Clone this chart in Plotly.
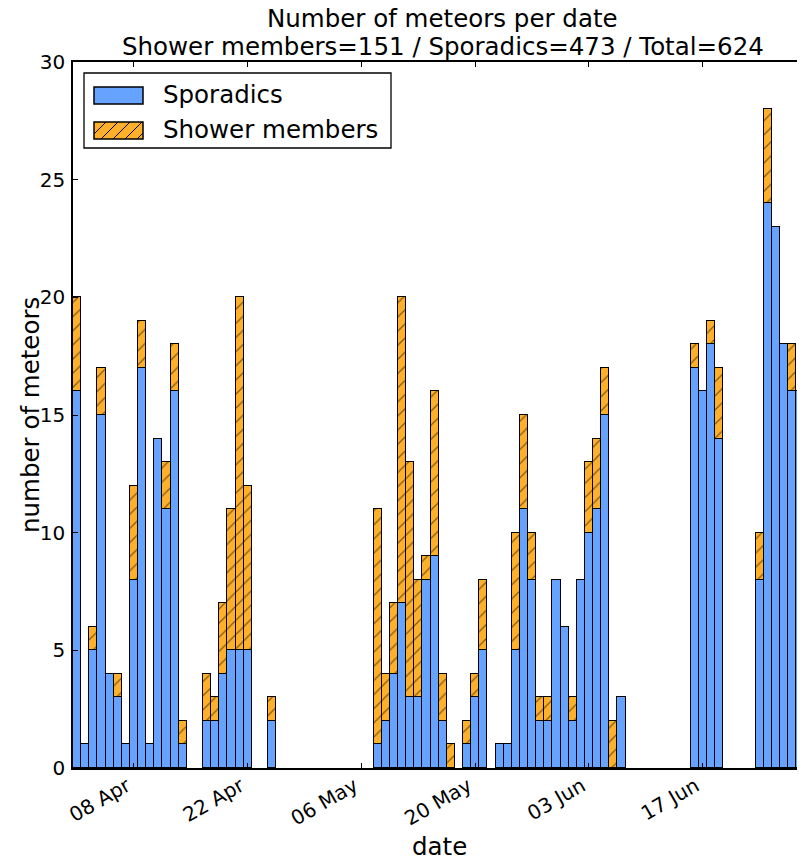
import plotly.graph_objects as go

dates = [
    "2015-04-01", "2015-04-02", "2015-04-03", "2015-04-04", "2015-04-05", "2015-04-06", "2015-04-07",
    "2015-04-08", "2015-04-09", "2015-04-10", "2015-04-11", "2015-04-12", "2015-04-13", "2015-04-14",
    "2015-04-17", "2015-04-18", "2015-04-19", "2015-04-20", "2015-04-21", "2015-04-22", "2015-04-25",
    "2015-05-08", "2015-05-09", "2015-05-10", "2015-05-11", "2015-05-12", "2015-05-13", "2015-05-14",
    "2015-05-15", "2015-05-16", "2015-05-17", "2015-05-19", "2015-05-20", "2015-05-21",
    "2015-05-23", "2015-05-24", "2015-05-25", "2015-05-26", "2015-05-27", "2015-05-28", "2015-05-29",
    "2015-05-30", "2015-05-31", "2015-06-01", "2015-06-02", "2015-06-03", "2015-06-04", "2015-06-05",
    "2015-06-06", "2015-06-07",
    "2015-06-16", "2015-06-17", "2015-06-18", "2015-06-19",
    "2015-06-24", "2015-06-25", "2015-06-26", "2015-06-27", "2015-06-28", "2015-06-29", "2015-06-30",
]
sporadics = [
    16, 1, 5, 15, 4, 3, 1,
    8, 17, 1, 14, 11, 16, 1,
    2, 2, 4, 5, 5, 5, 2,
    1, 2, 4, 7, 3, 3, 8,
    9, 2, 0, 1, 3, 5,
    1, 1, 5, 11, 8, 2, 2,
    8, 6, 2, 8, 10, 11, 15,
    0, 3,
    17, 16, 18, 14,
    8, 24, 23, 18, 16, 16, 24,
]
shower = [
    4, 0, 1, 2, 0, 1, 0,
    4, 2, 0, 0, 2, 2, 1,
    2, 1, 3, 6, 15, 7, 1,
    10, 2, 3, 13, 10, 5, 1,
    7, 2, 1, 1, 1, 3,
    0, 0, 5, 4, 2, 1, 1,
    0, 0, 1, 0, 3, 3, 2,
    2, 0,
    1, 0, 1, 3,
    2, 4, 0, 0, 2, 0, 1,
]
series_names = ["Sporadics", "Shower members"]
tick_vals = ["2015-04-08", "2015-04-22", "2015-05-06", "2015-05-20", "2015-06-03", "2015-06-17"]
tick_text = ["08 Apr", "22 Apr", "06 May", "20 May", "03 Jun", "17 Jun"]
y_ticks = [0, 5, 10, 15, 20, 25, 30]
x_range = ["2015-03-31 12:00", "2015-06-29 14:00"]

n_sh = sum(shower)
n_sp = sum(sporadics)
title_line1 = "Number of meteors per date"
title_line2 = f"Shower members={n_sh} / Sporadics={n_sp} / Total={n_sh + n_sp}"

FONT = "DejaVu Sans"
BIG = 24.5
DAY_MS = 86400000
BLUE = "#66a3ff"
ORANGE = "#ffb02a"
PLOT_W = 732
PLOT_H = 706
# plot-area origin on the page (left edge, bottom edge) used for the drawn legend
OX, OY = 73, 768


def px(sx):
    return (sx - OX) / PLOT_W


def py(sy):
    return (OY - sy) / PLOT_H


fig = go.Figure()
fig.add_trace(go.Bar(
    x=dates, y=sporadics, name=series_names[0], width=DAY_MS, showlegend=False,
    marker=dict(color=BLUE, line=dict(color="black", width=1.5)),
))
fig.add_trace(go.Bar(
    x=dates, y=shower, name=series_names[1], width=DAY_MS, showlegend=False,
    marker=dict(color=ORANGE, line=dict(color="black", width=1.5),
                pattern=dict(shape="/", fgcolor="black", bgcolor=ORANGE,
                             size=10, solidity=0.12)),
))

# ---- legend drawn as a matplotlib-style box with wide patches ----
shapes = []
shapes.append(dict(type="rect", xref="paper", yref="paper",
                   x0=px(84), x1=px(391), y0=py(148), y1=py(73),
                   fillcolor="white", line=dict(color="black", width=1.3), layer="above"))
patch_x0, patch_x1 = 94, 143
patches = [(87, 104, BLUE), (122, 139, ORANGE)]
for (top, bot, col) in patches:
    shapes.append(dict(type="rect", xref="paper", yref="paper",
                       x0=px(patch_x0), x1=px(patch_x1), y0=py(bot), y1=py(top),
                       fillcolor=col, line=dict(color="black", width=1.5), layer="above"))
# hatch lines inside the shower patch (45 degree "/")
top, bot, _ = patches[1]
k = patch_x0 - 17
while k < patch_x1:
    # line in page pixels: sx = k + (bot - sy)
    t0 = max(0, patch_x0 - k)
    t1 = min(bot - top, patch_x1 - k)
    if t1 > t0:
        shapes.append(dict(type="line", xref="paper", yref="paper",
                           x0=px(k + t0), y0=py(bot - t0), x1=px(k + t1), y1=py(bot - t1),
                           line=dict(color="black", width=1), layer="above"))
    k += 12

annotations = [
    dict(text=title_line1, xref="paper", yref="paper", x=0.505, y=1 + 44 / PLOT_H,
         xanchor="center", yanchor="middle", showarrow=False,
         font=dict(family=FONT, size=BIG, color="black")),
    dict(text=title_line2, xref="paper", yref="paper", x=0.505, y=1 + 16 / PLOT_H,
         xanchor="center", yanchor="middle", showarrow=False,
         font=dict(family=FONT, size=BIG, color="black")),
    dict(text="date", xref="paper", yref="paper", x=0.5, y=-78 / PLOT_H,
         xanchor="center", yanchor="middle", showarrow=False,
         font=dict(family=FONT, size=BIG, color="black")),
    dict(text="number of meteors", xref="paper", yref="paper", x=-43 / PLOT_W, y=0.5,
         xanchor="center", yanchor="middle", textangle=-90, showarrow=False,
         font=dict(family=FONT, size=BIG, color="black")),
]
for name, (top, bot, _) in zip(series_names, patches):
    annotations.append(dict(text=name, xref="paper", yref="paper",
                            x=px(161), y=py((top + bot) / 2 - 1),
                            xanchor="left", yanchor="middle", showarrow=False,
                            font=dict(family=FONT, size=BIG, color="black")))

fig.update_layout(
    width=797, height=850,
    margin=dict(l=65, r=0, t=54, b=90, autoexpand=False),
    barmode="stack", bargap=0,
    plot_bgcolor="white", paper_bgcolor="white",
    font=dict(family=FONT, color="black", size=20),
    showlegend=False,
    shapes=shapes,
    annotations=annotations,
)
fig.update_xaxes(
    type="date", range=x_range, automargin=False,
    tickvals=tick_vals, ticktext=tick_text, tickangle=-30,
    ticks="inside", ticklen=5, tickcolor="black", tickwidth=1,
    showline=True, linecolor="black", linewidth=1.5, mirror="ticks",
    showgrid=False, zeroline=False,
    tickfont=dict(family=FONT, size=20),
    ticklabelshift=-7, ticklabelstandoff=-3,
)
fig.update_yaxes(
    range=[0, 30], tickvals=y_ticks, automargin=False,
    ticks="inside", ticklen=5, tickcolor="black", tickwidth=1,
    showline=True, linecolor="black", linewidth=1.5, mirror=False,
    showgrid=False, zeroline=False,
    tickfont=dict(family=FONT, size=20), ticklabelstandoff=2,
)

fig.write_html("out.html")
